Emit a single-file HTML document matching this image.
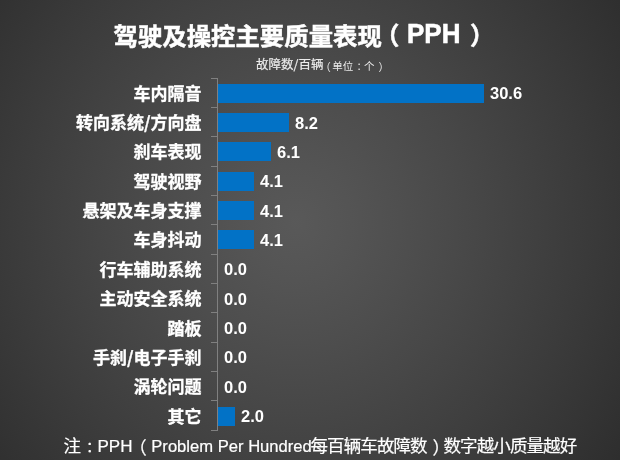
<!DOCTYPE html>
<html><head><meta charset="utf-8">
<style>
html,body{margin:0;padding:0;}
body{width:620px;height:460px;overflow:hidden;position:relative;background:radial-gradient(ellipse 405.7px 426.6px at 295.7px 222.8px, rgb(88.8,88.8,88.8) 0.0%, rgb(83.7,83.7,83.7) 14.3%, rgb(77.8,77.8,77.8) 28.6%, rgb(71.6,71.6,71.6) 42.9%, rgb(65.1,65.1,65.1) 57.1%, rgb(58.4,58.4,58.4) 71.4%, rgb(51.5,51.5,51.5) 85.7%, rgb(44.5,44.5,44.5) 100.0%);
font-family:"Liberation Sans","Noto Sans CJK SC",sans-serif;color:#fff;}
span,div{position:absolute;}
span{white-space:nowrap;line-height:1;}
.la{font-family:"Liberation Sans",sans-serif;}
.cj{font-family:"Noto Sans CJK SC","Liberation Sans",sans-serif;}
.t{font-weight:700;-webkit-text-stroke:0.5px #fff;}
.t.cj{font-size:24.4px;letter-spacing:0px;}
.t.la{font-size:26px;}
.s{font-size:12.5px;color:#ebebeb;-webkit-text-stroke:0.2px #ebebeb;letter-spacing:0px;}
.s2{font-size:10.5px;color:#ebebeb;}
.f{color:#ffffff;-webkit-text-stroke:0.2px #ffffff;}
.f.cj{font-size:17.5px;letter-spacing:-0.9px;}
.f.la{font-size:16.5px;}
.axis{left:217px;top:78.0px;width:1px;height:353px;background:#808080;}
.tick{left:211px;width:6px;height:1px;background:#808080;}
.cat{right:418.5px;font-family:"Noto Sans CJK SC","Liberation Sans",sans-serif;font-size:17px;font-weight:700;line-height:1;white-space:nowrap;letter-spacing:0px;-webkit-text-stroke:0.3px #fff;}
.tp{transform:scaleY(1.08);transform-origin:0 0;}
.f.fc{font-size:15px;}
.f.fp{font-size:17px;}
.f.fq{font-size:16.6px;}
.bar{left:218px;height:19px;background:#0272c6;}
.val{font-size:16.5px;font-weight:bold;line-height:1;white-space:nowrap;}
</style></head><body>
<div class="axis"></div>
<div class="tick" style="top:78px"></div>
<div class="cat" style="top:83.68px">车内隔音</div>
<div class="bar" style="top:83.68px;width:266.00px"></div>
<div class="val" style="top:85.18px;left:490.00px">30.6</div>
<div class="tick" style="top:107px"></div>
<div class="cat" style="top:113.04px">转向系统/方向盘</div>
<div class="bar" style="top:113.04px;width:71.00px"></div>
<div class="val" style="top:114.54px;left:295.00px">8.2</div>
<div class="tick" style="top:136px"></div>
<div class="cat" style="top:142.40px">刹车表现</div>
<div class="bar" style="top:142.40px;width:53.00px"></div>
<div class="val" style="top:143.90px;left:277.00px">6.1</div>
<div class="tick" style="top:166px"></div>
<div class="cat" style="top:171.76px">驾驶视野</div>
<div class="bar" style="top:171.76px;width:36.00px"></div>
<div class="val" style="top:173.26px;left:260.00px">4.1</div>
<div class="tick" style="top:195px"></div>
<div class="cat" style="top:201.12px">悬架及车身支撑</div>
<div class="bar" style="top:201.12px;width:36.00px"></div>
<div class="val" style="top:202.62px;left:260.00px">4.1</div>
<div class="tick" style="top:224px"></div>
<div class="cat" style="top:230.48px">车身抖动</div>
<div class="bar" style="top:230.48px;width:36.00px"></div>
<div class="val" style="top:231.98px;left:260.00px">4.1</div>
<div class="tick" style="top:254px"></div>
<div class="cat" style="top:259.84px">行车辅助系统</div>
<div class="val" style="top:261.34px;left:224.00px">0.0</div>
<div class="tick" style="top:283px"></div>
<div class="cat" style="top:289.20px">主动安全系统</div>
<div class="val" style="top:290.70px;left:224.00px">0.0</div>
<div class="tick" style="top:312px"></div>
<div class="cat" style="top:318.56px">踏板</div>
<div class="val" style="top:320.06px;left:224.00px">0.0</div>
<div class="tick" style="top:342px"></div>
<div class="cat" style="top:347.92px">手刹/电子手刹</div>
<div class="val" style="top:349.42px;left:224.00px">0.0</div>
<div class="tick" style="top:371px"></div>
<div class="cat" style="top:377.28px">涡轮问题</div>
<div class="val" style="top:378.78px;left:224.00px">0.0</div>
<div class="tick" style="top:400px"></div>
<div class="cat" style="top:406.64px">其它</div>
<div class="bar" style="top:406.64px;width:17.00px"></div>
<div class="val" style="top:408.14px;left:241.00px">2.0</div>
<div class="tick" style="top:430px"></div>
<span class="t cj" style="left:113.50px;top:22.50px">驾驶及操控主要质量表现</span>
<span class="t cj" style="left:375.00px;top:22.00px">（</span>
<span class="t la tp" style="left:407.00px;top:18.80px">PPH</span>
<span class="t cj" style="left:470.00px;top:22.00px">）</span>
<span class="s cj" style="left:256.00px;top:58.00px">故障数/百辆</span>
<span class="s2 cj" style="left:320.30px;top:61.70px">（</span>
<span class="s2 cj" style="left:332.30px;top:60.50px">单位</span>
<span class="s2 cj" style="left:356.50px;top:60.50px">：</span>
<span class="s2 cj" style="left:364.00px;top:60.50px">个</span>
<span class="s2 cj" style="left:378.50px;top:61.70px">）</span>
<span class="f cj" style="left:63.50px;top:436.20px">注</span>
<span class="f cj fc" style="left:86.00px;top:438.00px">：</span>
<span class="f la fp" style="left:97.50px;top:437.50px">PPH</span>
<span class="f cj" style="left:129.20px;top:438.00px">（</span>
<span class="f la fq" style="left:151.30px;top:439.00px">Problem Per Hundred</span>
<span class="f cj" style="left:310.50px;top:436.00px">每百辆车故障数</span>
<span class="f cj" style="left:432.50px;top:438.00px">）</span>
<span class="f cj" style="left:443.50px;top:436.00px">数字越小质量越好</span>
</body></html>
